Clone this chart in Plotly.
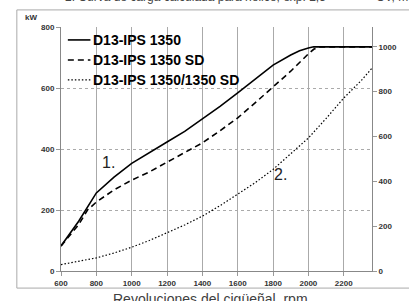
import plotly.graph_objects as go

# --- data ---
rpm_solid = [600, 700, 800, 900, 1000, 1100, 1200, 1300, 1400, 1500, 1600, 1700, 1800, 1900, 1950, 2000, 2030, 2100, 2200, 2300, 2360]
kw_solid = [82, 163, 256, 308, 353, 387, 423, 458, 498, 540, 584, 630, 675, 708, 722, 731, 735, 735, 735, 735, 735]

rpm_sd = [600, 700, 750, 800, 900, 1000, 1100, 1200, 1300, 1400, 1500, 1600, 1700, 1800, 1900, 2000, 2030, 2060, 2100, 2200, 2300, 2360]
kw_sd = [82, 152, 200, 226, 266, 298, 325, 357, 388, 420, 460, 502, 552, 603, 655, 712, 727, 735, 735, 735, 735, 735]

rpm_prop = [600, 700, 800, 900, 1000, 1100, 1200, 1300, 1400, 1500, 1600, 1700, 1800, 1900, 2000, 2100, 2200, 2300, 2360]
kw_prop = [21, 31, 43, 59, 78, 100, 125, 151, 180, 214, 252, 290, 333, 383, 436, 500, 567, 625, 665]

names = ["D13-IPS 1350", "D13-IPS 1350 SD", "D13-IPS 1350/1350 SD"]
dashes = ["solid", "6px,4px", "1.5px,2px"]
widths = [1.6, 1.6, 1.2]
x_ticks = [600, 800, 1000, 1200, 1400, 1600, 1800, 2000, 2200]
y_ticks_kw = [0, 200, 400, 600, 800]
y_ticks_hp = [0, 200, 400, 600, 800, 1000]

fig = go.Figure()
for xs, ys, nm, d, w in [(rpm_solid, kw_solid, names[0], dashes[0], widths[0]),
                         (rpm_sd, kw_sd, names[1], dashes[1], widths[1]),
                         (rpm_prop, kw_prop, names[2], dashes[2], widths[2])]:
    fig.add_trace(go.Scatter(x=xs, y=ys, mode="lines", name=nm, showlegend=False,
                             line=dict(color="black", width=w, dash=d)))
fig.add_trace(go.Scatter(x=[None], y=[None], yaxis="y2", showlegend=False, hoverinfo="skip"))

tickfont = dict(family="Liberation Sans", size=8, color="#333333")
fig.update_layout(
    width=409, height=301,
    margin=dict(l=61, r=31, t=27, b=30),
    paper_bgcolor="white", plot_bgcolor="white",
    showlegend=False,
    xaxis=dict(range=[600, 2360], tickvals=x_ticks, ticktext=[f"<b>{v}</b>" for v in x_ticks],
               tickfont=tickfont, ticks="outside", ticklen=4, tickcolor="#999999",
               showgrid=True, gridcolor="#aaaaaa", gridwidth=1,
               showline=True, linecolor="#888888", linewidth=1, zeroline=False),
    yaxis=dict(range=[0, 800], tickvals=y_ticks_kw, ticktext=[f"<b>{v}</b>" for v in y_ticks_kw],
               tickfont=tickfont, ticks="outside", ticklen=4, tickcolor="#999999",
               showgrid=True, gridcolor="#aaaaaa", griddash="dot", gridwidth=1,
               showline=True, linecolor="#888888", linewidth=1, zeroline=False),
    yaxis2=dict(range=[0, 1088], tickvals=y_ticks_hp, ticktext=[f"<b>{v}</b>" for v in y_ticks_hp],
                overlaying="y", side="right",
                tickfont=tickfont, ticks="outside", ticklen=4, tickcolor="#999999",
                showgrid=False, showline=True, linecolor="#888888", linewidth=1, zeroline=False),
)

# outer frame of the picture
fig.add_shape(type="rect", xref="paper", yref="paper", x0=-0.142, x1=1.3, y0=-0.07, y1=1.07,
              line=dict(color="#aaaaaa", width=1), layer="below")

# legend (drawn in the top-left of the plot area)
leg_rows = [0.947, 0.865, 0.783]
for nm, d, w, yy in zip(names, dashes, widths, leg_rows):
    fig.add_shape(type="line", xref="paper", yref="paper", x0=0.022, x1=0.0946, y0=yy, y1=yy,
                  line=dict(color="black", width=w, dash=d))
    fig.add_annotation(text=f"<b>{nm}</b>", xref="paper", yref="paper", x=0.095, y=yy,
                       xanchor="left", yanchor="middle", showarrow=False,
                       font=dict(family="Liberation Sans", size=14, color="black"))

annots = [
    dict(text="<b>kW</b>", x=-0.121, y=1.04, xanchor="left", yanchor="middle",
         font=dict(family="Liberation Sans", size=8, color="#333333")),
    dict(text="1.", x=870, y=355, xref="x", yref="y", xanchor="center", yanchor="middle",
         font=dict(family="Liberation Sans", size=16, color="#222222")),
    dict(text="2.", x=1840, y=315, xref="x", yref="y", xanchor="center", yanchor="middle",
         font=dict(family="Liberation Sans", size=16, color="#222222")),
    dict(text="2. Curva de carga calculada para hélice, exp. 2,5", x=0.006, y=1.086,
         xanchor="left", yanchor="bottom",
         font=dict(family="Liberation Sans", size=12, color="#444444")),
    dict(text="CV, metric hp", x=1.006, y=1.086, xanchor="left", yanchor="bottom",
         font=dict(family="Liberation Sans", size=12, color="#444444")),
    dict(text="Revoluciones del cigüeñal, rpm", x=0.48, y=-0.075, xanchor="center", yanchor="top",
         font=dict(family="Liberation Sans", size=14, color="#404040")),
]
for a in annots:
    a.setdefault("xref", "paper")
    a.setdefault("yref", "paper")
    fig.add_annotation(showarrow=False, **a)

fig.write_html("out.html", config={"displayModeBar": False},
               post_script="document.body.style.margin='0';")
